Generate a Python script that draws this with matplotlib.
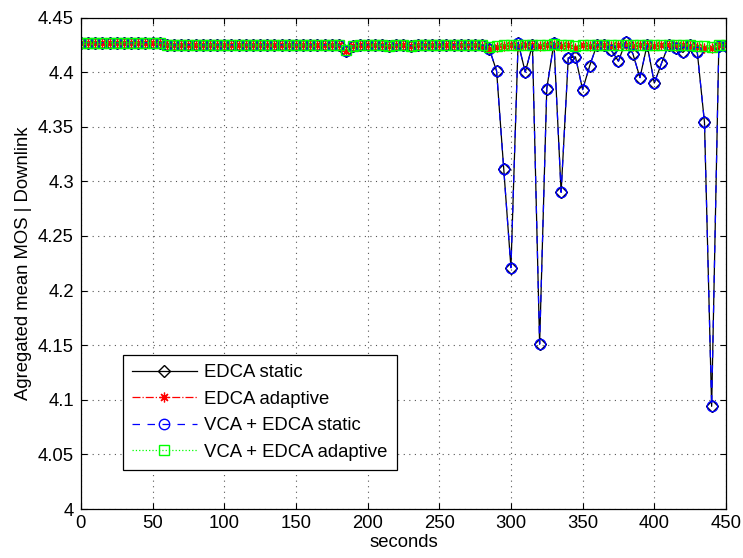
import matplotlib
matplotlib.use("Agg")
import matplotlib.pyplot as plt
import numpy as np

plt.rcParams["font.family"] = ["Liberation Sans", "DejaVu Sans"]

seconds = list(range(0, 451, 5))

# EDCA static (VCA + EDCA static follows the same curve)
edca_static = (
    [4.427] * 12
    + [4.425] * 25
    + [4.419, 4.424]
    + [4.425, 4.425, 4.425, 4.425, 4.424, 4.425, 4.425, 4.424, 4.425,
       4.425, 4.425, 4.425, 4.425, 4.425, 4.425, 4.425, 4.425]
    + [4.425, 4.421, 4.401, 4.311, 4.221, 4.427, 4.400, 4.425, 4.151,
       4.385, 4.427, 4.290, 4.413, 4.414, 4.384, 4.406, 4.425, 4.425,
       4.420, 4.410, 4.428, 4.417, 4.395, 4.425, 4.390, 4.408, 4.425,
       4.422, 4.418, 4.425, 4.418, 4.354, 4.094, 4.424, 4.424]
)
vca_static = list(edca_static)

edca_adaptive = (
    [4.427] * 12
    + [4.425] * 25
    + [4.419, 4.424]
    + [4.425, 4.425, 4.425, 4.425, 4.424, 4.425, 4.425, 4.424, 4.425,
       4.425, 4.425, 4.425, 4.425, 4.425, 4.425, 4.425, 4.425]
    + [4.424, 4.421, 4.423, 4.424, 4.425, 4.424, 4.425, 4.425, 4.424,
       4.425, 4.425, 4.424, 4.425, 4.422, 4.425, 4.424, 4.425, 4.425,
       4.424, 4.425, 4.425, 4.424, 4.425, 4.425, 4.424, 4.425, 4.425,
       4.424, 4.425, 4.424, 4.423, 4.422, 4.422, 4.425, 4.425]
)

vca_adaptive = (
    [4.427] * 12
    + [4.425] * 25
    + [4.420, 4.424]
    + [4.425, 4.425, 4.425, 4.425, 4.424, 4.425, 4.425, 4.424, 4.425,
       4.425, 4.425, 4.425, 4.425, 4.425, 4.425, 4.425, 4.425]
    + [4.425, 4.423, 4.424, 4.425, 4.425, 4.425, 4.425, 4.425, 4.425,
       4.425, 4.426, 4.425, 4.425, 4.424, 4.425, 4.425, 4.425, 4.425,
       4.425, 4.425, 4.425, 4.425, 4.425, 4.425, 4.425, 4.425, 4.425,
       4.425, 4.425, 4.425, 4.424, 4.424, 4.423, 4.425, 4.425]
)

x_ticks = list(range(0, 451, 50))
y_ticks = [4, 4.05, 4.1, 4.15, 4.2, 4.25, 4.3, 4.35, 4.4, 4.45]
y_tick_labels = ["4", "4.05", "4.1", "4.15", "4.2", "4.25", "4.3", "4.35", "4.4", "4.45"]

FS = 13.3


def main():
    fig = plt.figure(figsize=(7.43, 5.58), dpi=100)
    ax = fig.add_axes([0.1088, 0.0878, 0.8683, 0.8808])

    ax.plot(seconds, edca_static, color="black", lw=0.9, ls="-",
            marker="D", ms=6.3, mfc="none", mec="black", mew=1.0,
            label="EDCA static")
    # asterisk marker like matlab '*'
    ax.plot(seconds, edca_adaptive, color="red", lw=0.9, ls="-.",
            marker=(8, 2, 0), ms=7, mec="red", mew=0.9,
            label="EDCA adaptive")
    ax.plot(seconds, vca_static, color="blue", lw=0.9, ls=(0, (6, 6)),
            marker="o", ms=7.5, mfc="none", mec="blue", mew=1.0,
            label="VCA + EDCA static")
    ax.plot(seconds, vca_adaptive, color="#00ff00", lw=0.9, ls=":",
            marker="s", ms=7, mfc="none", mec="#00ff00", mew=1.0,
            label="VCA + EDCA adaptive")

    ax.set_xlim(0, 450)
    ax.set_ylim(4, 4.45)
    ax.set_xticks(x_ticks)
    ax.set_yticks(y_ticks)
    ax.set_yticklabels(y_tick_labels)
    ax.tick_params(direction="in", length=4, width=0.8, labelsize=FS,
                   top=True, right=True, pad=5)
    ax.tick_params(axis="x", pad=4)
    ax.grid(True, color="#555555", ls=(0, (1, 4)), lw=0.8)
    for s in ax.spines.values():
        s.set_linewidth(0.9)

    ax.set_xlabel("seconds", fontsize=FS, labelpad=2)
    ax.set_ylabel("Agregated mean MOS | Downlink", fontsize=FS, labelpad=4)

    leg = ax.legend(loc="lower left", bbox_to_anchor=(0.065, 0.079),
                    fontsize=FS, handlelength=3.5, handletextpad=0.4,
                    labelspacing=0.52, borderpad=0.5, borderaxespad=0,
                    fancybox=False, framealpha=1,
                    edgecolor="black", numpoints=1)
    leg.get_frame().set_linewidth(0.9)

    fig.savefig("out.png", dpi=100)
    plt.close(fig)


if __name__ == "__main__":
    main()
